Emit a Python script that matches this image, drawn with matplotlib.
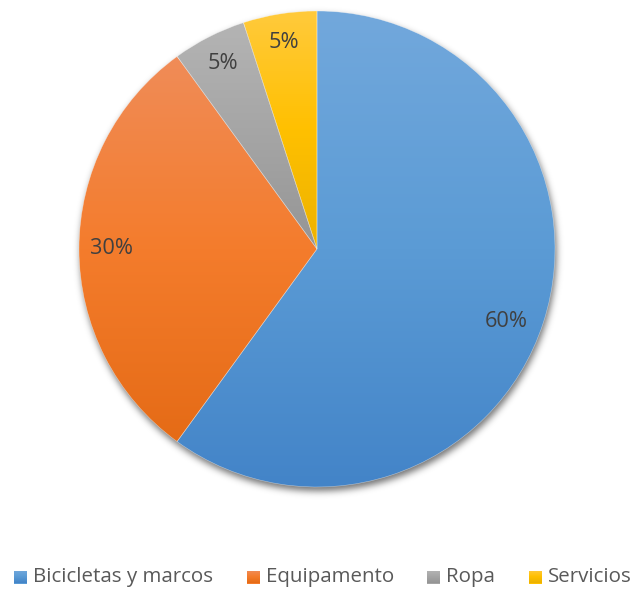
import numpy as np
import matplotlib.pyplot as plt
from matplotlib.colors import LinearSegmentedColormap
from matplotlib.patches import Rectangle, Wedge
from math import erf

categories = ["Bicicletas y marcos", "Equipamento", "Ropa", "Servicios"]
values = [60, 30, 5, 5]

# gradient stops per slice: top, middle, bottom
shades = [
    ["#72a8dc", "#5b9bd5", "#4384c8"],
    ["#f08c58", "#f47c2c", "#e56b16"],
    ["#b4b4b4", "#a5a5a5", "#959595"],
    ["#ffca3c", "#ffc000", "#ecb200"],
]

# radial position of each percentage label and a small angular nudge (deg)
label_dist = [0.85, 0.865, 0.873, 0.877]
label_nudge = [-2.9, 0.0, 0.0, 0.0]

W, H = 633, 591
CX, CY, R = 317, H - 249, 238

plt.rcParams['font.family'] = ['Open Sans', 'DejaVu Sans']

fig = plt.figure(figsize=(W / 100, H / 100), dpi=100)
ax = fig.add_axes([0, 0, 1, 1])
renderer = fig.canvas.get_renderer()


def fit_size(text, target_px):
    # font size that makes `text` about target_px wide
    t = fig.text(0, 0, text, fontsize=10)
    w = t.get_window_extent(renderer).width
    t.remove()
    return 10 * target_px / w


legend_fs = fit_size(categories[0], 180)
label_fs = fit_size("30%", 43)

# soft drop shadow under the pie
gx, gy = np.meshgrid(np.arange(0, W, 1.0) + 0.5, np.arange(0, H, 1.0) + 0.5)
d = np.hypot(gx - (CX + 1.5), gy - (CY - 4)) - R
verf = np.vectorize(erf)
shadow = np.zeros((H, W, 4))
shadow[..., 3] = 0.5 * (1 - verf(d / (3.5 * np.sqrt(2)))) * 0.55
ax.imshow(shadow, extent=(0, W, 0, H), origin='lower', zorder=0, interpolation='bilinear')

wedges, _ = ax.pie(values, center=(CX, CY), radius=R, startangle=90,
                   counterclock=False, frame=True,
                   wedgeprops=dict(facecolor='none', edgecolor='none'))

for w, cols in zip(wedges, shades):
    ext = w.get_path().get_extents()
    cmap = LinearSegmentedColormap.from_list('g', cols[::-1])
    grad = np.linspace(0, 1, 256).reshape(-1, 1)
    im = ax.imshow(grad, cmap=cmap, aspect='auto', origin='lower',
                   extent=(ext.x0, ext.x1, ext.y0, ext.y1), zorder=2,
                   interpolation='bilinear')
    im.set_clip_path(w)
    ax.add_patch(Wedge((CX, CY), R, w.theta1, w.theta2, facecolor='none',
                       edgecolor='#ffffff', linewidth=0.4, alpha=0.5, zorder=3))

total = sum(values)
for w, v, dist, nudge in zip(wedges, values, label_dist, label_nudge):
    ang = np.deg2rad((w.theta1 + w.theta2) / 2 + nudge)
    ax.text(CX + dist * R * np.cos(ang), CY + dist * R * np.sin(ang),
            f"{v / total * 100:.0f}%", ha='center', va='center',
            fontsize=label_fs, color='#404040', zorder=4)

ax.set_xlim(0, W)
ax.set_ylim(0, H)
ax.set_aspect('auto')
ax.axis('off')

# legend row along the bottom
x = 14
ly = H - 577
for name, cols in zip(categories, shades):
    sq = Rectangle((x, ly - 6.5), 13, 13, facecolor=cols[1], edgecolor='none', zorder=4)
    ax.add_patch(sq)
    sg = ax.imshow(np.linspace(0, 1, 32).reshape(-1, 1),
                   cmap=LinearSegmentedColormap.from_list('l', cols[::-1]),
                   aspect='auto', origin='lower',
                   extent=(x, x + 13, ly - 6.5, ly + 6.5), zorder=5)
    sg.set_clip_path(sq)
    t = ax.text(x + 19, ly, name, ha='left', va='center', fontsize=legend_fs,
                color='#595959', zorder=5)
    bb = t.get_window_extent(renderer)
    x = x + 19 + bb.width + 33.5

ax.set_xlim(0, W)
ax.set_ylim(0, H)
fig.savefig('out.png', dpi=100, facecolor='white')
